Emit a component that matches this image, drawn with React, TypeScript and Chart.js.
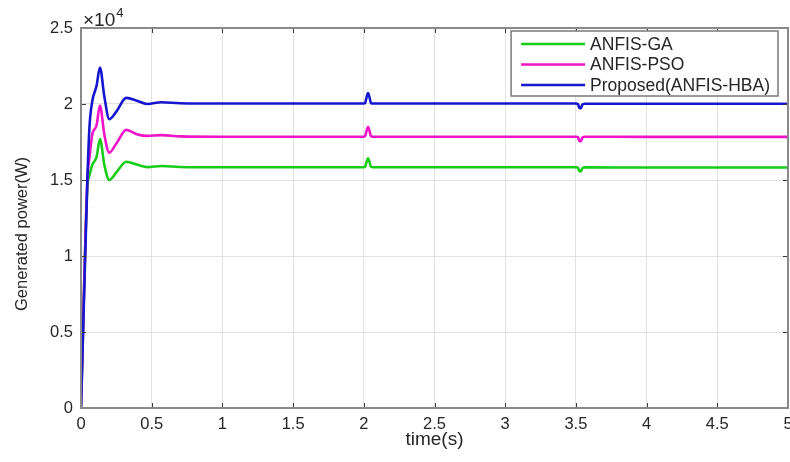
import React, { useEffect, useRef } from 'react';
import { Chart, registerables } from 'chart.js';

Chart.register(...registerables);

// time (s)
const timeS = [0, 0.045, 0.06, 0.08, 0.11, 0.134, 0.165, 0.2, 0.25, 0.32, 0.4, 0.47, 0.57, 0.7, 1.0, 2.0, 2.01, 2.02, 2.03, 2.04, 2.05, 2.065, 2.2, 3.5, 3.515, 3.525, 3.535, 3.545, 3.56, 4.0, 5.0];
// generated power (W)
const gaPower = [0, 14500, 15300, 16000, 16500, 17700, 16000, 15000, 15500, 16200, 16000, 15850, 15920, 15860, 15840, 15840, 15880, 16200, 16420, 16200, 15880, 15840, 15840, 15840, 15800, 15580, 15560, 15760, 15830, 15820, 15820];
const psoPower = [0, 15000, 16500, 18000, 18600, 19900, 18000, 16800, 17400, 18300, 18000, 17900, 17950, 17870, 17850, 17850, 17900, 18250, 18500, 18250, 17900, 17850, 17850, 17850, 17810, 17580, 17560, 17780, 17850, 17840, 17840];
const hbaPower = [0, 15000, 18500, 20200, 21200, 22400, 20500, 19000, 19500, 20400, 20200, 20000, 20120, 20050, 20030, 20030, 20080, 20450, 20720, 20450, 20080, 20030, 20030, 20030, 19990, 19740, 19720, 19950, 20020, 20020, 20020];

const seriesLabels = ['ANFIS-GA', 'ANFIS-PSO', 'Proposed(ANFIS-HBA)'];
const seriesColors = ['#18cc18', '#f014c8', '#1616d0'];

const xMin = 0, xMax = 5, xStep = 0.5;
const yMin = 0, yMax = 25000, yStep = 5000;
const yExponentBase = '\u00d710';
const yExponent = '4';
const xTitle = 'time(s)';
const yTitle = 'Generated power(W)';

const FONT = "'Liberation Sans', Arial, Helvetica, sans-serif";
const TEXT = '#262626';

const matlabFrame = {
  id: 'matlabFrame',
  afterDatasetsDraw(chart: any) {
    const { ctx, chartArea: a, scales } = chart;
    ctx.save();
    // inward tick marks
    ctx.strokeStyle = '#3a3a3a';
    ctx.lineWidth = 1;
    scales.x.ticks.forEach((t: any) => {
      const px = Math.round(scales.x.getPixelForValue(t.value)) + 0.5;
      ctx.beginPath();
      ctx.moveTo(px, a.bottom); ctx.lineTo(px, a.bottom - 5);
      ctx.moveTo(px, a.top); ctx.lineTo(px, a.top + 5);
      ctx.stroke();
    });
    scales.y.ticks.forEach((t: any) => {
      const py = Math.round(scales.y.getPixelForValue(t.value)) + 0.5;
      ctx.beginPath();
      ctx.moveTo(a.left, py); ctx.lineTo(a.left + 5, py);
      ctx.moveTo(a.right, py); ctx.lineTo(a.right - 5, py);
      ctx.stroke();
    });
    // box
    ctx.strokeStyle = '#8a8a8a';
    ctx.lineWidth = 2;
    ctx.strokeRect(a.left, a.top, a.right - a.left, a.bottom - a.top);

    // legend
    ctx.font = `17.5px ${FONT}`;
    let maxW = 0;
    seriesLabels.forEach((l) => { maxW = Math.max(maxW, ctx.measureText(l).width); });
    const lineLen = 64;
    const boxW = 10 + lineLen + 5 + maxW + 8;
    const boxH = 65;
    const bx = a.right - 10 - boxW;
    const by = a.top + 3;
    ctx.fillStyle = '#ffffff';
    ctx.fillRect(bx, by, boxW, boxH);
    ctx.strokeStyle = '#7a7a7a';
    ctx.lineWidth = 1.5;
    ctx.strokeRect(bx, by, boxW, boxH);
    seriesLabels.forEach((l, i) => {
      const cy = by + 13 + i * 20.5;
      ctx.strokeStyle = seriesColors[i];
      ctx.lineWidth = 2.5;
      ctx.beginPath();
      ctx.moveTo(bx + 10, cy); ctx.lineTo(bx + 10 + lineLen, cy);
      ctx.stroke();
      ctx.fillStyle = TEXT;
      ctx.textBaseline = 'middle';
      ctx.textAlign = 'left';
      ctx.fillText(l, bx + 10 + lineLen + 5, cy + 1);
    });

    // exponent label
    ctx.fillStyle = TEXT;
    ctx.textBaseline = 'alphabetic';
    ctx.textAlign = 'left';
    ctx.font = `19px ${FONT}`;
    ctx.fillText(yExponentBase, a.left + 2, a.top - 2);
    const w = ctx.measureText(yExponentBase).width;
    ctx.font = `13px ${FONT}`;
    ctx.fillText(yExponent, a.left + 2 + w + 1, a.top - 11);

    // y axis title
    ctx.save();
    ctx.translate(22, (a.top + a.bottom) / 2 + 16);
    ctx.rotate(-Math.PI / 2);
    ctx.font = `16.5px ${FONT}`;
    ctx.textAlign = 'center';
    ctx.textBaseline = 'middle';
    ctx.fillText(yTitle, 0, 0);
    ctx.restore();
    ctx.restore();
  },
};

export default function App() {
  const ref = useRef<HTMLCanvasElement | null>(null);
  useEffect(() => {
    if (!ref.current) return;
    const mk = (vals: number[]) => timeS.map((t, i) => ({ x: t, y: vals[i] }));
    const all = [gaPower, psoPower, hbaPower];
    const chart = new Chart(ref.current, {
      type: 'line',
      data: {
        datasets: all.map((vals, i) => ({
          label: seriesLabels[i],
          data: mk(vals),
          borderColor: seriesColors[i],
          backgroundColor: seriesColors[i],
          borderWidth: 2.6,
          pointRadius: 0,
          cubicInterpolationMode: 'monotone' as const,
          fill: false,
          order: 3 - i,
        })),
      },
      options: {
        responsive: false,
        animation: false,
        events: [],
        layout: { padding: { top: 28, right: 2, left: 0, bottom: 0 } },
        plugins: { legend: { display: false }, tooltip: { enabled: false } },
        scales: {
          x: {
            type: 'linear',
            min: xMin,
            max: xMax,
            afterFit: (s: any) => { s.height = 54; s.paddingLeft = 0; s.paddingRight = 0; },
            grid: { color: '#e2e2e2', lineWidth: 1, drawTicks: false },
            border: { display: false },
            ticks: {
              stepSize: xStep,
              padding: 7,
              color: TEXT,
              font: { family: FONT, size: 16.5 },
              maxRotation: 0,
              callback: (v: any) => String(v),
            },
            title: {
              display: true,
              text: xTitle,
              color: TEXT,
              font: { family: FONT, size: 19 },
              padding: { top: 0, bottom: 11 },
            },
          },
          y: {
            type: 'linear',
            min: yMin,
            max: yMax,
            afterFit: (s: any) => { s.width = 81; s.paddingTop = 0; s.paddingBottom = 0; },
            grid: { color: '#e2e2e2', lineWidth: 1, drawTicks: false },
            border: { display: false },
            ticks: {
              stepSize: yStep,
              padding: 8,
              color: TEXT,
              font: { family: FONT, size: 16.5 },
              callback: (v: any) => String(Number(v) / 10000),
            },
          },
        },
      },
      plugins: [matlabFrame],
    });
    return () => chart.destroy();
  }, []);
  return (
    <div style={{ position: 'absolute', left: 0, top: 0, width: 790, height: 462, background: '#fff' }}>
      <canvas ref={ref} width={790} height={462} style={{ display: 'block' }} />
    </div>
  );
}
